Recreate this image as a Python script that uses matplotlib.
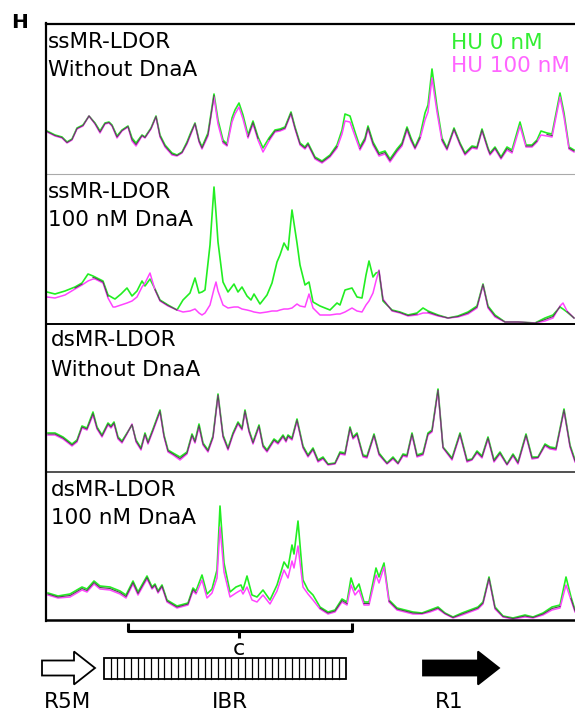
import numpy as np
import matplotlib.pyplot as plt
from matplotlib.patches import Polygon, Rectangle

# scan position along the lane and trace heights (a.u.) for HU 0 nM / HU 100 nM
pos_ss_free = [47, 55, 62, 67, 72, 77, 83, 89, 95, 100, 105, 109, 112, 117, 122, 128, 132, 136, 142, 145,
               151, 156, 160, 165, 172, 177, 182, 187, 191, 195, 199, 202, 208, 214, 218, 223, 227, 232, 235, 239,
               243, 248, 253, 258, 263, 269, 275, 280, 285, 291, 295, 300, 305, 308, 315, 322, 330, 337, 342, 345,
               350, 355, 360, 365, 368, 373, 379, 385, 390, 397, 402, 407, 411, 415, 420, 425, 428, 432, 437, 442,
               447, 454, 460, 465, 472, 477, 482, 488, 490, 495, 501, 507, 512, 520, 526, 532, 537, 541, 547, 552,
               560, 564, 569, 574]
hu0_ss_free = [43, 39, 37, 32, 35, 46, 49, 58, 51, 43, 51, 52, 49, 38, 44, 48, 36, 31, 39, 37,
               46, 58, 39, 29, 21, 19, 22, 32, 42, 51, 34, 27, 41, 80, 54, 34, 30, 56, 64, 71,
               59, 39, 53, 37, 26, 36, 44, 45, 47, 62, 47, 31, 27, 31, 17, 13, 19, 29, 44, 60,
               58, 42, 27, 36, 48, 32, 21, 23, 15, 25, 31, 47, 36, 27, 38, 61, 69, 105, 67, 36,
               26, 46, 31, 21, 28, 27, 45, 26, 21, 27, 17, 27, 24, 52, 29, 29, 34, 43, 41, 40,
               81, 61, 27, 24]
hu100_ss_free = [42, 38, 36, 31, 34, 45, 48, 58, 50, 41, 50, 51, 48, 36, 43, 47, 33, 28, 38, 36,
                 45, 57, 37, 27, 19, 18, 21, 30, 40, 50, 32, 25, 38, 77, 50, 31, 28, 52, 60, 67,
                 55, 36, 50, 34, 22, 33, 42, 43, 45, 60, 45, 29, 25, 29, 15, 11, 17, 26, 40, 53,
                 52, 38, 24, 33, 45, 29, 18, 20, 12, 22, 28, 44, 33, 25, 35, 54, 62, 96, 62, 33,
                 24, 44, 29, 19, 26, 25, 43, 24, 19, 25, 15, 24, 21, 48, 27, 27, 32, 39, 38, 37,
                 77, 57, 25, 22]

pos_ss_dnaa = [47, 55, 65, 75, 82, 88, 93, 95, 103, 108, 113, 115, 121, 127, 132, 137, 142, 145, 150, 155,
               160, 168, 177, 183, 190, 195, 199, 202, 205, 210, 214, 216, 218, 223, 228, 234, 238, 242, 247, 251,
               254, 260, 267, 272, 277, 280, 284, 288, 292, 297, 300, 305, 309, 313, 320, 330, 337, 340, 345, 352,
               357, 362, 366, 369, 373, 376, 379, 383, 392, 400, 408, 417, 423, 428, 438, 448, 458, 468, 477, 483,
               488, 495, 505, 518, 535, 545, 553, 560, 563, 567, 574]
hu0_ss_dnaa = [31, 29, 32, 36, 40, 49, 47, 46, 42, 28, 25, 24, 29, 35, 27, 32, 42, 37, 44, 34,
               23, 18, 13, 23, 30, 45, 30, 31, 33, 78, 136, 110, 81, 41, 31, 39, 31, 36, 27, 23,
               29, 19, 28, 40, 61, 68, 80, 73, 113, 80, 58, 38, 41, 21, 17, 13, 20, 18, 33, 35,
               26, 25, 48, 62, 46, 50, 51, 22, 13, 11, 8, 10, 15, 12, 8, 5, 7, 11, 17, 39,
               17, 8, 1, 1, 0, 5, 8, 16, 14, 11, 5]
hu100_ss_dnaa = [26, 25, 28, 34, 38, 42, 44, 44, 40, 25, 16, 16, 18, 20, 22, 26, 36, 40, 50, 33,
                 22, 17, 13, 11, 12, 14, 10, 8, 10, 18, 34, 41, 32, 18, 15, 16, 16, 14, 13, 12,
                 11, 10, 11, 12, 12, 13, 14, 14, 15, 19, 17, 16, 29, 15, 8, 8, 9, 9, 11, 15,
                 12, 11, 18, 22, 30, 42, 53, 24, 12, 10, 7, 8, 10, 10, 7, 5, 6, 9, 15, 38,
                 15, 6, 1, 1, 0, 2, 5, 17, 20, 12, 5]

pos_ds_free = [48, 55, 63, 72, 77, 82, 87, 93, 97, 102, 108, 111, 114, 118, 122, 127, 132, 136, 141, 145,
               148, 153, 160, 164, 168, 173, 180, 187, 192, 195, 199, 203, 208, 213, 218, 223, 228, 233, 238, 242,
               245, 249, 253, 259, 263, 267, 274, 278, 283, 286, 288, 292, 297, 303, 308, 313, 318, 323, 328, 335,
               340, 345, 350, 353, 357, 363, 367, 374, 379, 387, 393, 398, 403, 407, 412, 417, 423, 428, 432, 438,
               443, 452, 460, 467, 472, 477, 482, 488, 494, 500, 507, 513, 518, 526, 532, 538, 545, 550, 556, 564,
               570, 575]
hu0_ds_free = [39, 39, 35, 28, 32, 46, 44, 60, 45, 37, 49, 46, 50, 35, 31, 39, 47, 32, 24, 39,
               30, 43, 62, 37, 22, 19, 15, 20, 38, 31, 48, 29, 22, 36, 78, 37, 24, 39, 50, 44,
               62, 42, 30, 47, 27, 22, 33, 30, 37, 32, 37, 34, 53, 26, 17, 24, 12, 15, 8, 9,
               20, 19, 45, 35, 39, 17, 16, 38, 19, 9, 15, 9, 18, 17, 39, 17, 19, 39, 42, 83,
               25, 14, 39, 12, 13, 21, 16, 35, 12, 20, 8, 18, 10, 38, 15, 15, 28, 25, 24, 63,
               27, 12]
hu100_ds_free = [37, 37, 33, 26, 30, 44, 42, 57, 43, 35, 47, 44, 48, 33, 29, 38, 48, 30, 22, 37,
                 28, 41, 60, 35, 20, 17, 12, 18, 36, 29, 45, 27, 20, 34, 76, 35, 22, 37, 48, 42,
                 60, 40, 28, 45, 25, 20, 31, 28, 35, 30, 35, 32, 51, 24, 15, 22, 10, 13, 7, 8,
                 18, 17, 43, 33, 37, 15, 14, 36, 17, 8, 13, 8, 16, 15, 37, 15, 17, 37, 40, 81,
                 24, 12, 37, 10, 12, 19, 14, 33, 10, 18, 7, 16, 8, 36, 13, 14, 26, 23, 22, 61,
                 25, 10]

pos_ds_dnaa = [48, 58, 70, 82, 87, 94, 100, 110, 120, 126, 133, 138, 147, 152, 155, 158, 162, 167, 177, 188,
               193, 196, 202, 207, 212, 217, 220, 224, 230, 236, 241, 243, 247, 252, 257, 263, 270, 277, 284, 288,
               292, 294, 298, 303, 308, 313, 320, 328, 335, 342, 347, 351, 355, 359, 364, 369, 376, 379, 384, 389,
               397, 405, 413, 422, 430, 438, 445, 453, 462, 470, 478, 483, 489, 495, 503, 513, 525, 533, 543, 552,
               560, 566, 571, 575]
hu0_ds_dnaa = [27, 24, 26, 33, 31, 39, 34, 33, 29, 25, 39, 28, 44, 33, 36, 29, 35, 20, 14, 17,
               32, 29, 45, 26, 31, 50, 114, 57, 28, 33, 35, 30, 44, 25, 23, 30, 20, 35, 58, 52,
               75, 66, 99, 40, 30, 25, 13, 8, 10, 21, 18, 42, 30, 36, 18, 18, 52, 43, 57, 20,
               12, 10, 8, 7, 10, 13, 7, 3, 7, 10, 13, 18, 43, 13, 4, 2, 5, 3, 7, 13,
               15, 43, 23, 10]
hu100_ds_dnaa = [25, 22, 23, 30, 28, 36, 31, 30, 26, 22, 36, 25, 41, 31, 34, 27, 33, 18, 12, 15,
                 29, 26, 40, 22, 27, 42, 93, 48, 23, 27, 30, 26, 33, 20, 18, 25, 16, 29, 50, 42,
                 59, 52, 74, 33, 26, 20, 11, 6, 8, 18, 15, 35, 25, 30, 15, 15, 45, 37, 53, 18,
                 10, 8, 6, 6, 8, 11, 6, 2, 5, 8, 11, 16, 41, 11, 3, 1, 3, 2, 5, 10,
                 12, 35, 20, 8]

panel_titles = [("ssMR-LDOR", "Without DnaA"), ("ssMR-LDOR", "100 nM DnaA"),
                ("dsMR-LDOR", "Without DnaA"), ("dsMR-LDOR", "100 nM DnaA")]
traces = [(pos_ss_free, hu0_ss_free, hu100_ss_free),
          (pos_ss_dnaa, hu0_ss_dnaa, hu100_ss_dnaa),
          (pos_ds_free, hu0_ds_free, hu100_ds_free),
          (pos_ds_dnaa, hu0_ds_dnaa, hu100_ds_dnaa)]

GREEN = "#22ee22"
MAGENTA = "#ff44ff"
W, H = 575, 715

fig = plt.figure(figsize=(W / 100, H / 100), dpi=100)
plt.rcParams["font.family"] = "DejaVu Sans"

# panel rows in pixels (top, bottom)
rows = [(24, 174), (174, 323), (323, 472), (472, 620)]
x_left, x_right = 46, 590

for (top, bot), (pos, g, m) in zip(rows, traces):
    ax = fig.add_axes([x_left / W, 1 - bot / H, (x_right - x_left) / W, (bot - top) / H])
    ax.set_xlim(x_left, x_right)
    ax.set_ylim(0, bot - top)
    ax.axis("off")
    g = np.array(g, float)
    m = np.array(m, float)
    ax.plot(pos, g, color=GREEN, lw=1.2)
    ax.plot(pos, m, color=MAGENTA, lw=1.1)
    # where both traces coincide they print as dark grey
    both = np.where(np.abs(g - m) <= 3, (g + m) / 2, np.nan)
    ax.plot(pos, both, color="#505050", lw=0.8)

# overlay in pixel coordinates for frame, labels and the schematic
ov = fig.add_axes([0, 0, 1, 1])
ov.set_xlim(0, W)
ov.set_ylim(H, 0)
ov.axis("off")
ov.patch.set_alpha(0)

ov.plot([46, W], [24, 24], color="black", lw=1.6)
ov.plot([46, W], [174, 174], color="#aaaaaa", lw=0.8)
ov.plot([46, W], [323.5, 323.5], color="black", lw=1.4)
ov.plot([46, W], [472, 472], color="#333333", lw=1.2)
ov.plot([46, W], [619.5, 619.5], color="black", lw=1.8)
ov.plot([46, 46], [23, 621], color="black", lw=1.6)

ov.text(11, 28.5, "H", fontsize=14.5, fontweight="heavy", va="baseline")

text_x = [48, 48, 51, 51]
for (top, bot), (l1, l2), tx in zip(rows, panel_titles, text_x):
    ov.text(tx, top + 23.5, l1, fontsize=15.5, va="baseline")
    ov.text(tx, top + 52.5, l2, fontsize=15.5, va="baseline")

ov.text(451, 49, "HU 0 nM", fontsize=15.5, color="#33ee33", va="baseline")
ov.text(451, 72.5, "HU 100 nM", fontsize=15.5, color="#ff66ff", va="baseline")

# bracket over the IBR region
ov.plot([128, 128, 352, 352], [623, 630.5, 630.5, 623], color="black", lw=2.2,
        solid_joinstyle="round", solid_capstyle="butt")
ov.plot([239, 239], [630.5, 638], color="black", lw=2.2, solid_capstyle="butt")
ov.text(239, 655, "c", fontsize=16, ha="center", va="baseline")

# R5M open arrow, IBR striped box, R1 filled arrow
def arrow(x0, x_neck, x_tip, yc, filled):
    pts = [(x0, yc - 7.5), (x_neck, yc - 7.5), (x_neck, yc - 16.5), (x_tip, yc),
           (x_neck, yc + 16.5), (x_neck, yc + 7.5), (x0, yc + 7.5)]
    ov.add_patch(Polygon(pts, closed=True, facecolor="black" if filled else "white",
                         edgecolor="black", lw=1.3, joinstyle="miter"))

arrow(42, 74, 95, 668, False)
arrow(423, 478, 499, 668, True)

ov.add_patch(Rectangle((104, 658), 241.5, 21, facecolor="white", edgecolor="black", lw=1.3))
for xs in np.linspace(104, 345.5, 37)[1:-1]:
    ov.plot([xs, xs], [658, 679], color="black", lw=0.9)

ov.text(67, 708, "R5M", fontsize=15.5, ha="center", va="baseline")
ov.text(230, 708, "IBR", fontsize=15.5, ha="center", va="baseline")
ov.text(449, 708, "R1", fontsize=15.5, ha="center", va="baseline")

fig.savefig("out.png", dpi=100)
